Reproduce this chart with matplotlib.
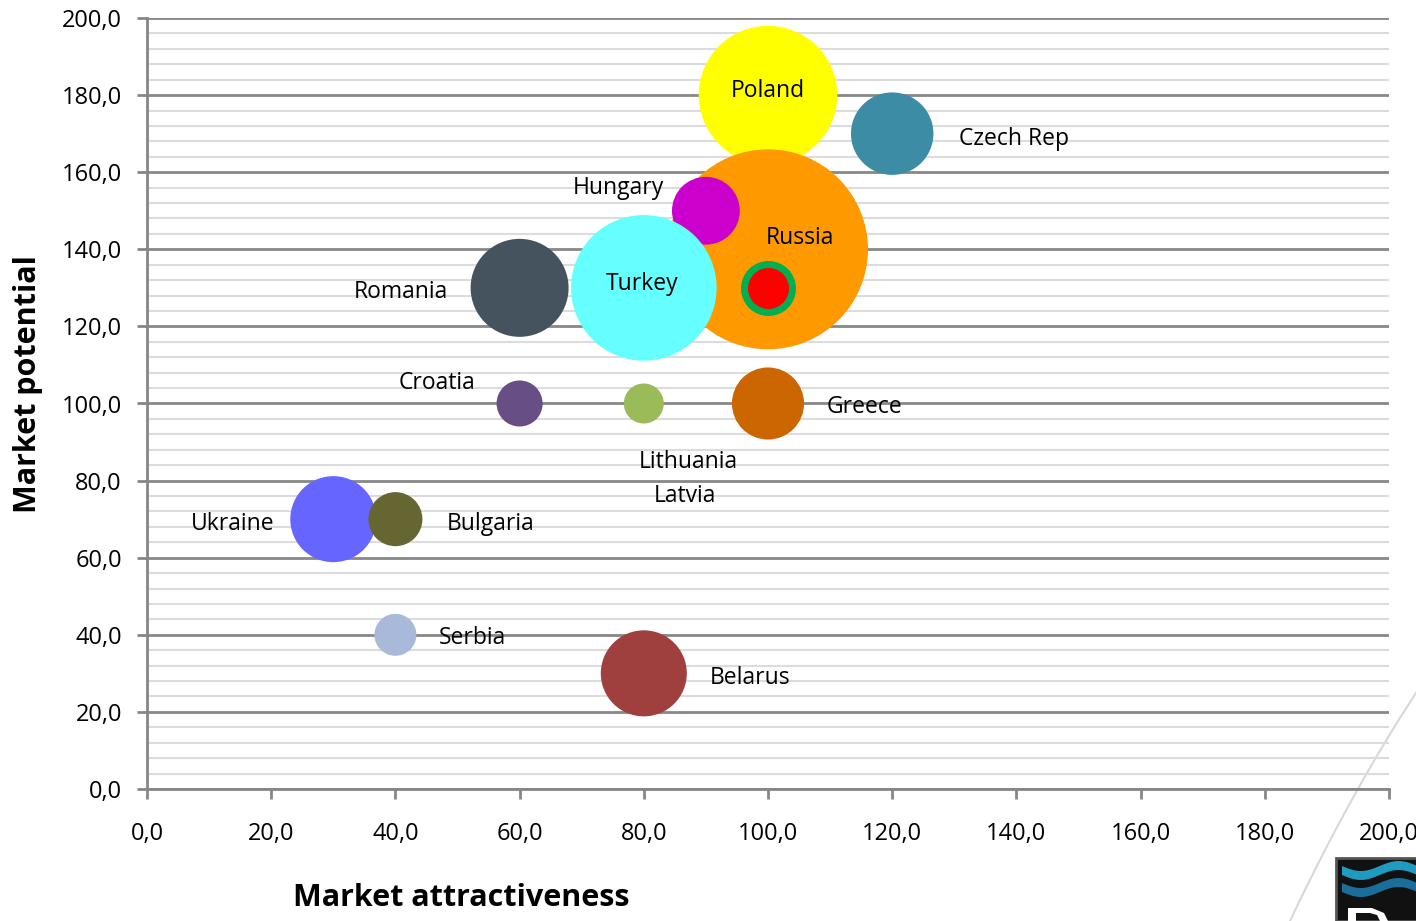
import matplotlib.pyplot as plt
import numpy as np
from matplotlib.patches import Rectangle, Polygon
from matplotlib.lines import Line2D

plt.rcParams['font.family'] = ['Open Sans', 'DejaVu Sans']

# countries: market attractiveness (x), market potential (y), bubble size
countries = ['Poland', 'Russia', 'Hungary', 'Turkey', 'Czech Rep', 'Romania',
             'Croatia', 'Lithuania', 'Greece', 'Ukraine', 'Bulgaria',
             'Serbia', 'Belarus']
attract = [100, 100, 90, 80, 120, 60, 60, 80, 100, 30, 40, 40, 80]
potential = [180, 140, 150, 130, 170, 130, 100, 100, 100, 70, 70, 40, 30]
bubble = [48, 100, 11.5, 53, 17, 24, 5.3, 4, 13, 18.5, 7.3, 4.4, 18.5]
colors = ['#FFFF00', '#FF9900', '#CC00CC', '#66FFFF', '#3B8CA4', '#44535E',
          '#674F85', '#9BBB59', '#CC6600', '#6666FF', '#666633', '#A9B9D9',
          '#A0403E']

# highlighted point
home_x, home_y = 100, 130

dpi = 100
fig = plt.figure(figsize=(14.16, 9.21), dpi=dpi)

# faint arc from the slide background
t = np.linspace(0, 1, 50)
px = (1 - t) ** 2 * 1290 + 2 * (1 - t) * t * 1352 + t ** 2 * 1418
py = (1 - t) ** 2 * 921 + 2 * (1 - t) * t * 790 + t ** 2 * 690
fig.add_artist(Line2D(px / 1416, 1 - py / 921, color='#D8D8D8', lw=1.5,
                      zorder=0))

ax = fig.add_axes([147 / 1416, 1 - 789 / 921, 1242 / 1416, 771 / 921])
ax.patch.set_visible(False)


def px2pt(v):
    return v * 72 / dpi


# bubble radius in pixels grows with sqrt of size
for x, y, b, c in zip(attract, potential, bubble, colors):
    r = 10 * np.sqrt(b)
    ax.scatter(x, y, s=px2pt(2 * r) ** 2, color=c, edgecolors='none',
               zorder=3, clip_on=False)

ax.plot(home_x, home_y, 'o', ms=px2pt(48), mfc='#FF0000', mec='#00B050',
        mew=px2pt(7), zorder=5)

# labels
lab = dict(fontsize=16.5, color='black', zorder=6)
ax.text(100, 181, 'Poland', ha='center', va='center', **lab)
ax.text(130.7, 168.7, 'Czech Rep', ha='left', va='center', **lab)
ax.text(83.2, 156, 'Hungary', ha='right', va='center', **lab)
ax.text(105.2, 143, 'Russia', ha='center', va='center', **lab)
ax.text(79.8, 131, 'Turkey', ha='center', va='center', **lab)
ax.text(48.5, 128.8, 'Romania', ha='right', va='center', **lab)
ax.text(52.8, 105.3, 'Croatia', ha='right', va='center', **lab)
ax.text(109.5, 99, 'Greece', ha='left', va='center', **lab)
ax.text(87.1, 84.9, 'Lithuania', ha='center', va='center', **lab)
ax.text(86.6, 76.1, 'Latvia', ha='center', va='center', **lab)
ax.text(20.6, 68.8, 'Ukraine', ha='right', va='center', **lab)
ax.text(48.2, 68.8, 'Bulgaria', ha='left', va='center', **lab)
ax.text(47.0, 39.1, 'Serbia', ha='left', va='center', **lab)
ax.text(90.6, 28.9, 'Belarus', ha='left', va='center', **lab)

ax.set_xlim(0, 200)
ax.set_ylim(0, 200)
ax.set_xticks(np.arange(0, 201, 20))
ax.set_yticks(np.arange(0, 201, 20))
ax.set_yticks(np.arange(0, 201, 4), minor=True)
ax.set_xticklabels([f'{v:.1f}'.replace('.', ',') for v in np.arange(0, 201, 20)])
ax.set_yticklabels([f'{v:.1f}'.replace('.', ',') for v in np.arange(0, 201, 20)])

ax.grid(True, axis='y', which='major', color='#888888', lw=2, zorder=0)
ax.grid(True, axis='y', which='minor', color='#DCDCDC', lw=1.5, zorder=0)
ax.set_axisbelow(True)

for s in ['top', 'right']:
    ax.spines[s].set_visible(False)
for s in ['left', 'bottom']:
    ax.spines[s].set_color('#868686')
    ax.spines[s].set_linewidth(2)

ax.tick_params(which='major', length=7, width=2, color='#868686',
               labelsize=17, pad=8)
ax.tick_params(axis='x', pad=17)
ax.tick_params(axis='y', pad=11)
ax.tick_params(which='minor', length=0)

fig.text(461 / 1416, 1 - 898 / 921, 'Market attractiveness', ha='center',
         va='center', fontsize=22, fontweight='bold')
fig.text(28 / 1416, 1 - 384 / 921, 'Market potential', ha='center',
         va='center', fontsize=22, fontweight='bold', rotation=90)

# corner logo
lx0 = 1336 / 1416
fig.add_artist(Rectangle((lx0, 0), 0.06, 63 / 921, facecolor='#111111',
                         edgecolor='#555555', lw=2))
wx = np.linspace(1342, 1416, 40)
for off, col in [(0, '#1E9BC0'), (17, '#1A6E9A')]:
    top = 866 + off + 5 * np.sin((wx - 1342) / 12)
    bot = top + 9
    pts = np.column_stack([np.r_[wx, wx[::-1]] / 1416,
                           1 - np.r_[top, bot[::-1]] / 921])
    fig.add_artist(Polygon(pts, closed=True, facecolor=col, edgecolor='none'))
letter = np.array([[1348, 921], [1348, 908], [1372, 908], [1384, 913],
                   [1388, 921], [1380, 921], [1377, 915], [1370, 913],
                   [1356, 913], [1356, 921]])
fig.add_artist(Polygon(np.column_stack([letter[:, 0] / 1416,
                                        1 - letter[:, 1] / 921]),
                       closed=True, facecolor='white', edgecolor='none'))

fig.savefig('out.png', dpi=dpi)
